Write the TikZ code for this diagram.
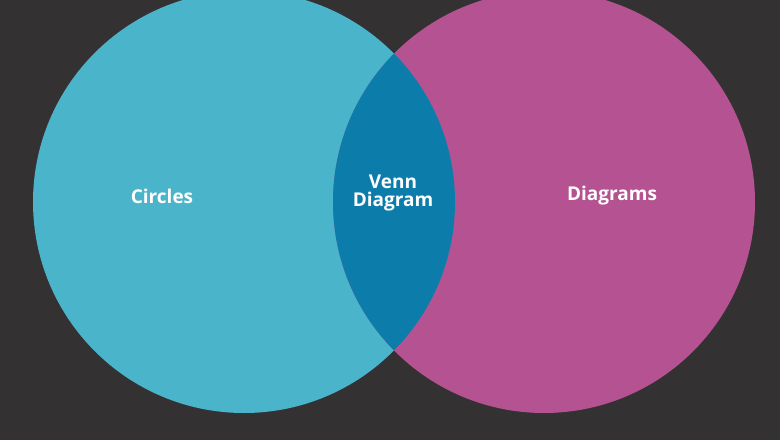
\documentclass[tikz,border=0pt]{standalone}
\usepackage{fontspec}
\setmainfont{Open Sans}
\definecolor{bg}{HTML}{343133}
\definecolor{cyanc}{HTML}{4AB4CB}
\definecolor{magc}{HTML}{B55291}
\definecolor{midc}{HTML}{0C7DAB}
\begin{document}
\begin{tikzpicture}[x=1pt,y=-1pt,
  lbl/.style={text=white,font=\bfseries\fontsize{19}{21}\selectfont,align=center}]
\fill[bg] (0,0) rectangle (780,440);
\useasboundingbox (0,0) rectangle (780,440);
\fill[cyanc] (244,202) circle (211);
\fill[magc] (544,202) circle (211);
\begin{scope}
\clip (244,202) circle (211);
\fill[midc] (544,202) circle (211);
\end{scope}
\node[lbl] (c) at (162,196) {Circles};
\node[lbl] (v) at (393,193) {Venn\\[-3pt]Diagram};
\node[lbl] (d) at (612,196) {Diagrams};
\end{tikzpicture}
\end{document}
